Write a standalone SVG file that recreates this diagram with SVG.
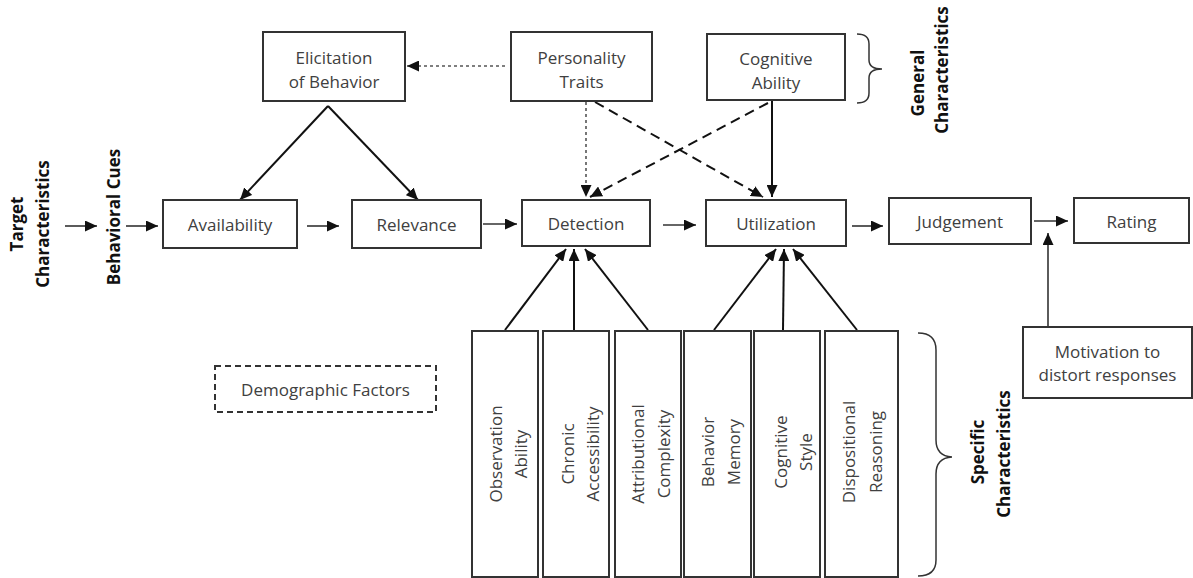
<svg xmlns="http://www.w3.org/2000/svg" width="1193" height="578" viewBox="0 0 1193 578">
<defs>
<marker id="ah" markerUnits="userSpaceOnUse" markerWidth="13" markerHeight="11" refX="12" refY="5.5" orient="auto">
<path d="M0,0 L12,5.5 L0,11 z" fill="#111"/>
</marker>
<style>
.box{fill:#fff;stroke:#333;stroke-width:2}
.dbox{fill:#fff;stroke:#333;stroke-width:2;stroke-dasharray:6,4}
.t{font-family:"Open Sans","Liberation Sans",sans-serif;font-size:17px;fill:#404040;text-anchor:middle;dominant-baseline:central}
.b{font-family:"Open Sans","Liberation Sans",sans-serif;font-size:17px;font-weight:bold;fill:#111;text-anchor:middle;dominant-baseline:central}
.c{fill:none;stroke:#111;stroke-width:2;marker-end:url(#ah)}
.cs{fill:none;stroke:#333;stroke-width:1.6;marker-end:url(#ah)}
.dot{fill:none;stroke:#555;stroke-width:1.6;stroke-dasharray:3,3;marker-end:url(#ah)}
.dash{fill:none;stroke:#111;stroke-width:2;stroke-dasharray:10,6;marker-end:url(#ah)}
.brace{fill:none;stroke:#333;stroke-width:1.5}
</style>
</defs>

<g id="connectors">
<line class="cs" x1="65" y1="226" x2="97" y2="226"/>
<line class="cs" x1="126" y1="226" x2="158" y2="226"/>
<line class="cs" x1="307" y1="226" x2="339" y2="226"/>
<line class="cs" x1="483" y1="224" x2="517" y2="224"/>
<line class="cs" x1="663" y1="225" x2="696" y2="225"/>
<line class="cs" x1="852" y1="226" x2="883" y2="226"/>
<line class="cs" x1="1034" y1="221" x2="1068" y2="221"/>
<line class="cs" x1="1048" y1="327" x2="1048" y2="233"/>
<line class="c" x1="328" y1="106" x2="240" y2="200"/>
<line class="c" x1="328" y1="106" x2="418" y2="200"/>
<line class="dot" x1="505" y1="66" x2="407" y2="66"/>
<line class="dot" x1="586" y1="102" x2="586" y2="197"/>
<line class="dash" x1="595" y1="102" x2="763" y2="197"/>
<line class="dash" x1="768" y1="103" x2="590" y2="197"/>
<line class="c" x1="772" y1="100" x2="772" y2="197"/>
<line class="c" x1="505" y1="330" x2="566" y2="249"/>
<line class="c" x1="574" y1="330" x2="574" y2="249"/>
<line class="c" x1="648" y1="330" x2="585" y2="249"/>
<line class="c" x1="714" y1="330" x2="776" y2="249"/>
<line class="c" x1="783" y1="330" x2="784" y2="249"/>
<line class="c" x1="857" y1="330" x2="793" y2="249"/>
</g>

<g id="elicitation"><rect class="box" x="263" y="32" width="142" height="69"/><text class="t" x="334" y="57">Elicitation</text><text class="t" x="334" y="81">of Behavior</text></g>
<g id="personality"><rect class="box" x="511" y="32" width="141" height="69"/><text class="t" x="581.5" y="57">Personality</text><text class="t" x="581.5" y="81">Traits</text></g>
<g id="cognitive-ability"><rect class="box" x="707" y="34" width="138" height="66"/><text class="t" x="776" y="58">Cognitive</text><text class="t" x="776" y="82">Ability</text></g>
<g id="availability"><rect class="box" x="163" y="200" width="134" height="48"/><text class="t" x="230" y="224">Availability</text></g>
<g id="relevance"><rect class="box" x="352" y="200" width="129" height="48"/><text class="t" x="416.5" y="224">Relevance</text></g>
<g id="detection"><rect class="box" x="522" y="200" width="128" height="46"/><text class="t" x="586" y="223">Detection</text></g>
<g id="utilization"><rect class="box" x="706" y="200" width="140" height="46"/><text class="t" x="776" y="223">Utilization</text></g>
<g id="judgement"><rect class="box" x="889" y="198" width="142" height="46"/><text class="t" x="960" y="221">Judgement</text></g>
<g id="rating"><rect class="box" x="1074" y="198" width="115" height="45"/><text class="t" x="1131.5" y="221">Rating</text></g>
<g id="motivation"><rect class="box" x="1023" y="327" width="169" height="71"/><text class="t" x="1107.5" y="351">Motivation to</text><text class="t" x="1107.5" y="374">distort responses</text></g>
<g id="demographic"><rect class="dbox" x="215" y="366" width="221" height="46"/><text class="t" x="325.5" y="389">Demographic Factors</text></g>

<g id="observation"><rect class="box" x="472" y="331" width="66" height="246"/><text class="t" transform="rotate(-90 495 454)" x="495" y="454">Observation</text><text class="t" transform="rotate(-90 520 454)" x="520" y="454">Ability</text></g>
<g id="chronic"><rect class="box" x="543" y="331" width="66" height="246"/><text class="t" transform="rotate(-90 567 454)" x="567" y="454">Chronic</text><text class="t" transform="rotate(-90 592 454)" x="592" y="454">Accessibility</text></g>
<g id="attributional"><rect class="box" x="615" y="331" width="66" height="246"/><text class="t" transform="rotate(-90 637 454)" x="637" y="454">Attributional</text><text class="t" transform="rotate(-90 663 454)" x="663" y="454">Complexity</text></g>
<g id="behavior-memory"><rect class="box" x="684" y="331" width="67" height="246"/><text class="t" transform="rotate(-90 707 452)" x="707" y="452">Behavior</text><text class="t" transform="rotate(-90 733 452)" x="733" y="452">Memory</text></g>
<g id="cognitive-style"><rect class="box" x="754" y="331" width="66" height="246"/><text class="t" transform="rotate(-90 780 452)" x="780" y="452">Cognitive</text><text class="t" transform="rotate(-90 805 452)" x="805" y="452">Style</text></g>
<g id="dispositional"><rect class="box" x="825" y="331" width="73" height="246"/><text class="t" transform="rotate(-90 848 452)" x="848" y="452">Dispositional</text><text class="t" transform="rotate(-90 875 452)" x="875" y="452">Reasoning</text></g>

<g id="target-label"><text class="b" transform="rotate(-90 16 224)" x="16" y="224">Target</text><text class="b" transform="rotate(-90 42 224)" x="42" y="224">Characteristics</text></g>
<g id="cues-label"><text class="b" transform="rotate(-90 113 217)" x="113" y="217">Behavioral Cues</text></g>
<g id="general-label">
<path class="brace" d="M857,34 Q869,34 869,44 L869,60 Q869,69 882,69 Q869,69 869,78 L869,93 Q869,103 857,103"/>
<text class="b" transform="rotate(-90 917 83)" x="917" y="83">General</text><text class="b" transform="rotate(-90 941 70)" x="941" y="70">Characteristics</text></g>
<g id="specific-label">
<path class="brace" d="M918,333 Q936,333 936,350 L936,440 Q936,456 952,457 Q936,458 936,474 L936,560 Q936,576 918,576"/>
<text class="b" transform="rotate(-90 977 452)" x="977" y="452">Specific</text><text class="b" transform="rotate(-90 1003 454)" x="1003" y="454">Characteristics</text></g>
</svg>
